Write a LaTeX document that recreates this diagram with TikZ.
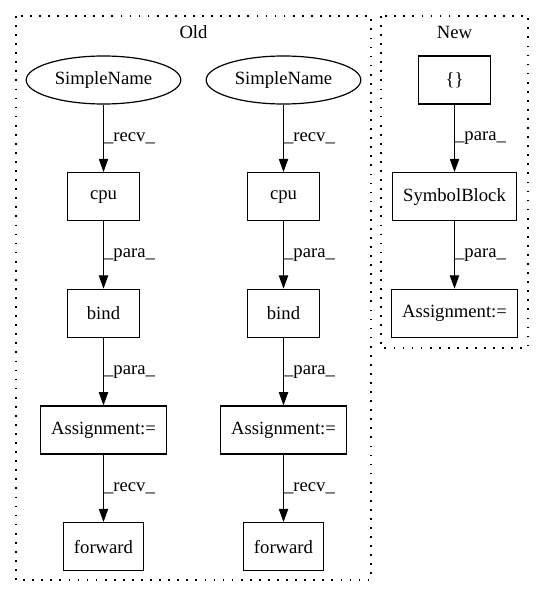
\documentclass[tikz,border=0pt]{standalone}
\usepackage{fontspec}
\setmainfont{Liberation Serif}
\usetikzlibrary{arrows.meta,shapes.geometric}
\begin{document}
\begin{tikzpicture}[x=0.75pt,y=-0.75pt,
  every node/.style={font=\fontsize{14pt}{16pt}\selectfont},
  box/.style={draw, line width=0.9pt, rectangle, inner sep=0pt, minimum height=36pt},
  oval/.style={draw, line width=0.9pt, ellipse, inner sep=0pt, minimum height=36pt, minimum width=116pt},
  cluster/.style={draw, line width=0.9pt, dash pattern=on 1.3pt off 5.5pt},
  edge/.style={draw, line width=0.9pt, -{Triangle[length=10pt,width=7pt]}},
  elab/.style={midway, right, inner sep=0pt}
]
\useasboundingbox (0,0) rectangle (544,596);
% clusters
\draw[cluster] (16,16) rectangle (371,580);
\draw[cluster] (381,16) rectangle (528,348);
\node (oldlab) at (193.5,32) {Old};
\node (newlab) at (454.5,32) {New};
% Old, left column
\node[oval] (sn1) at (103.5,80) {SimpleName};
\node[box, minimum width=54pt] (cpu1) at (103.5,196.7) {cpu};
\node[box, minimum width=54pt] (bind1) at (103.5,313.3) {bind};
\node[box, minimum width=94.5pt] (as1) at (103.5,430) {Assignment:=};
\node[box, minimum width=60pt] (fw1) at (103.5,546.7) {forward};
% Old, right column
\node[oval] (sn2) at (283.5,80) {SimpleName};
\node[box, minimum width=54pt] (cpu2) at (283.5,196.7) {cpu};
\node[box, minimum width=54pt] (bind2) at (283.5,313.3) {bind};
\node[box, minimum width=94.5pt] (as2) at (283.5,430) {Assignment:=};
\node[box, minimum width=60pt] (fw2) at (283.5,546.7) {forward};
% New
\node[box, minimum width=54pt] (br) at (454.5,80) {\{\}};
\node[box, minimum width=93pt] (sb) at (454.5,196.7) {SymbolBlock};
\node[box, minimum width=94.5pt] (as3) at (454.5,313.3) {Assignment:=};
% edges
\draw[edge] (sn1) -- node[elab] {\_recv\_} (cpu1);
\draw[edge] (cpu1) -- node[elab] {\_para\_} (bind1);
\draw[edge] (bind1) -- node[elab] {\_para\_} (as1);
\draw[edge] (as1) -- node[elab] {\_recv\_} (fw1);
\draw[edge] (sn2) -- node[elab] {\_recv\_} (cpu2);
\draw[edge] (cpu2) -- node[elab] {\_para\_} (bind2);
\draw[edge] (bind2) -- node[elab] {\_para\_} (as2);
\draw[edge] (as2) -- node[elab] {\_recv\_} (fw2);
\draw[edge] (br) -- node[elab] {\_para\_} (sb);
\draw[edge] (sb) -- node[elab] {\_para\_} (as3);
\end{tikzpicture}
\end{document}
